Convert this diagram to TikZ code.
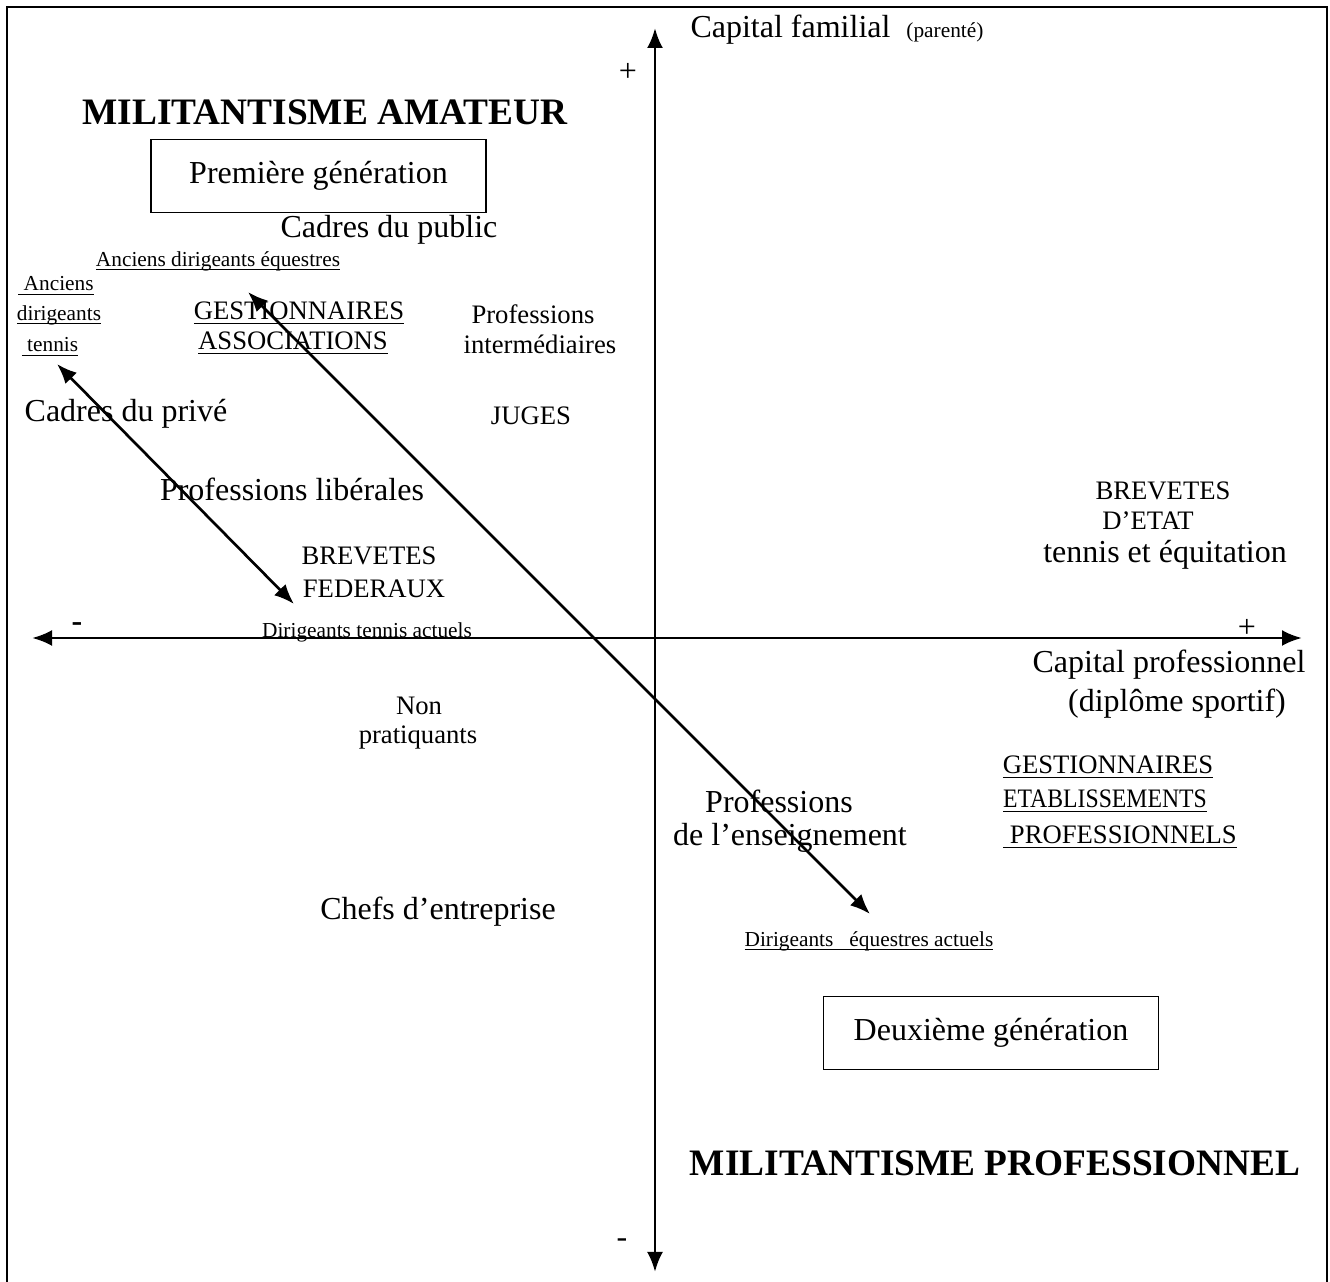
\documentclass[tikz,border=0pt]{standalone}
\usepackage{fontspec}
\usepackage{graphicx}
\setmainfont{Liberation Serif}
\usetikzlibrary{arrows.meta}
\newcommand\souligne[1]{\setbox0\hbox{#1}\rlap{\rule[-1.6pt]{\wd0}{0.5pt}}\box0}
\tikzset{
  grand/.style={font=\fontsize{12}{14}\selectfont, inner sep=0pt},
  titre/.style={font=\fontsize{14}{16}\selectfont\bfseries, inner sep=0pt},
  moyen/.style={font=\fontsize{10}{12}\selectfont, inner sep=0pt},
  petit/.style={font=\fontsize{8}{10}\selectfont, inner sep=0pt},
  axe/.style={line width=1.1pt, {Latex[length=7.5pt,width=6pt]}-{Latex[length=7.5pt,width=6pt]}},
  fleche/.style={line width=1pt, {Latex[length=7.5pt,width=6pt]}-{Latex[length=7.5pt,width=6pt]}},
  cadre/.style={draw, line width=0.6pt, minimum width=335*0.375pt, minimum height=73*0.375pt, font=\fontsize{12}{14}\selectfont}
}
\begin{document}
\begin{tikzpicture}[x=0.375pt,y=-0.375pt]
		\useasboundingbox (0,0) rectangle (1330,1282);
		\draw [line width=1.1pt] (7,1282) -- (7,7) -- (1327,7) -- (1327,1282);
		% axes
		\coordinate (hb) at (655,1272);
		\coordinate (hh) at (655,28);
		\coordinate (ag) at (32,638);
		\coordinate (ad) at (1302,638);
		\draw [axe] (hb) -- (hh);
		\draw [axe] (ag) -- (ad);
		\node [grand, anchor=west] (capfam) at (690,30) {Capital familial \ \fontsize{8}{10}\selectfont(parenté)};
		\node [grand] (plush) at (628,72) {+};
		\node [grand] (moinsb) at (622,1243) {-};
		\node [grand, font=\fontsize{12}{14}\selectfont\bfseries] (moinsg) at (77,627) {-};
		\node [grand] (plusd) at (1247,628) {+};
		\node [grand] (cappro1) at (1169,665) {Capital professionnel};
		\node [grand] (cappro2) at (1177,704) {(diplôme sportif)};
		% titres
		\node [titre] (amateur) at (325,112) {MILITANTISME AMATEUR};
		\node [titre] (pro) at (995,1163) {MILITANTISME PROFESSIONNEL};
		\node [cadre] (gen1) at (318.5,176) {Première génération};
		\node [cadre] (gen2) at (991,1033) {Deuxième génération};
		% quadrant haut gauche
		\node [grand] (public) at (389,230) {Cadres du public};
		\node [petit] (anceq) at (218,261) {\souligne{Anciens dirigeants équestres}};
		\node [petit] (anct1) at (56,286) {\souligne{\ Anciens}};
		\node [petit] (anct2) at (59,315) {\souligne{dirigeants}};
		\node [petit] (anct3) at (50,347) {\souligne{\ tennis}};
		\node [moyen] (gest1) at (299,313) {\souligne{GESTIONNAIRES}};
		\node [moyen] (gest2) at (293,343) {\souligne{ASSOCIATIONS}};
		\node [moyen] (inter1) at (533,314) {Professions};
		\node [moyen] (inter2) at (540,344) {intermédiaires};
		\node [grand] (prive) at (126,414) {Cadres du privé};
		\node [moyen] (juges) at (531,416) {JUGES};
		\node [grand] (liber) at (292,489) {Professions libérales};
		\node [moyen] (fed1) at (369,556) {BREVETES};
		\node [moyen] (fed2) at (374,589) {FEDERAUX};
		\node [petit] (dirten) at (367,632) {Dirigeants tennis actuels};
		% quadrant haut droit
		\node [moyen] (etat1) at (1163,491) {BREVETES};
		\node [moyen] (etat2) at (1148,521) {D’ETAT};
		\node [grand] (etat3) at (1165,555) {tennis et équitation};
		% bas
		\node [moyen] (nonp1) at (419,706) {Non};
		\node [moyen] (nonp2) at (418,738) {pratiquants};
		\node [grand] (ens1) at (779,801) {Professions};
		\node [grand] (ens2) at (790,838) {de l’enseignement};
		\node [moyen] (etab1) at (1108,767) {\souligne{GESTIONNAIRES}};
		\node [moyen] (etab2) at (1105,801) {\souligne{\scalebox{0.89}[1]{ETABLISSEMENTS}}};
		\node [moyen] (etab3) at (1120,837) {\souligne{\ PROFESSIONNELS}};
		\node [grand] (chefs) at (438,912) {Chefs d’entreprise};
		\node [petit] (direq) at (869,941) {\souligne{Dirigeants\ \ \ équestres actuels}};
		% fleches
		\coordinate (t1) at (57,364);
		\coordinate (t2) at (294,604);
		\coordinate (e1) at (248,292);
		\coordinate (e2) at (870,914);
		\draw [fleche] (t1) -- (t2);
		\draw [fleche] (e1) -- (e2);
\end{tikzpicture}
\end{document}
